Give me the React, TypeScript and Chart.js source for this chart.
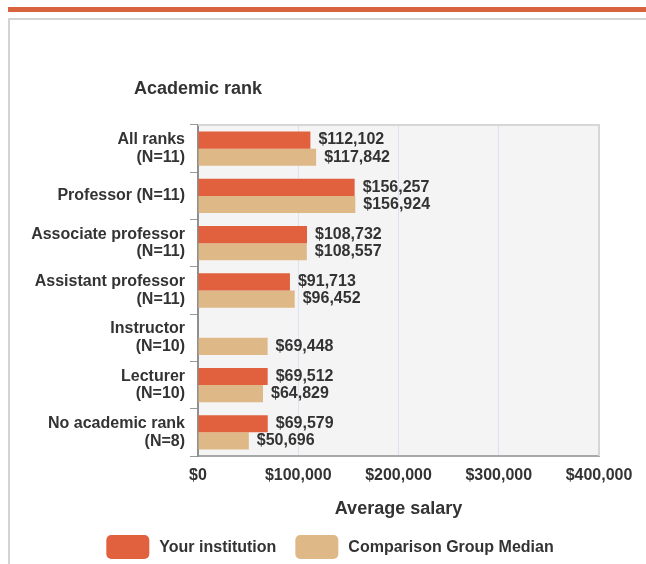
import React, { useEffect, useRef } from 'react';
import { Chart, registerables } from 'chart.js';

Chart.register(...registerables);

const categories: (string | string[])[] = [
  ['All ranks', '(N=11)'],
  'Professor (N=11)',
  ['Associate professor', '(N=11)'],
  ['Assistant professor', '(N=11)'],
  ['Instructor', '(N=10)'],
  ['Lecturer', '(N=10)'],
  ['No academic rank', '(N=8)'],
];
const yourInstitution: (number | null)[] = [112102, 156257, 108732, 91713, null, 69512, 69579];
const comparisonMedian: number[] = [117842, 156924, 108557, 96452, 69448, 64829, 50696];
const seriesNames = ['Your institution', 'Comparison Group Median'];
const seriesColors = ['#e1603d', '#deb887'];
const xMin = 0;
const xMax = 400000;
const xStep = 100000;
const yAxisTitle = 'Academic rank';
const xAxisTitle = 'Average salary';

const FONT = '"Liberation Sans", Arial, sans-serif';
const TEXT = '#333333';

const money = (v: number) => '$' + Math.round(v).toLocaleString('en-US');

const decorPlugin = {
  id: 'decor',
  beforeDraw(chart: any) {
    const { ctx, chartArea, width, height } = chart;
    ctx.save();
    // top orange rule
    ctx.fillStyle = '#d9633f';
    ctx.fillRect(8, 7, width - 8, 5);
    // frame
    ctx.fillStyle = '#d3d3d3';
    ctx.fillRect(8, 18, width - 8, 2);
    ctx.fillRect(8, 18, 2, height - 18);
    // plot background
    ctx.fillStyle = '#f4f4f4';
    ctx.fillRect(chartArea.left, chartArea.top, chartArea.right - chartArea.left, chartArea.bottom - chartArea.top);
    ctx.restore();
  },
  afterDraw(chart: any) {
    const { ctx, chartArea } = chart;
    ctx.save();
    // plot top/right border
    ctx.strokeStyle = '#d6d6d6';
    ctx.lineWidth = 2;
    ctx.beginPath();
    ctx.moveTo(chartArea.left, chartArea.top);
    ctx.lineTo(chartArea.right, chartArea.top);
    ctx.lineTo(chartArea.right, chartArea.bottom);
    ctx.stroke();
    // y title (horizontal, above labels)
    ctx.fillStyle = TEXT;
    ctx.font = `bold 18px ${FONT}`;
    ctx.textAlign = 'center';
    ctx.textBaseline = 'middle';
    ctx.fillText(yAxisTitle, chartArea.left, 89);
    // value labels
    ctx.font = `bold 16px ${FONT}`;
    ctx.textAlign = 'left';
    chart.data.datasets.forEach((ds: any, di: number) => {
      const meta = chart.getDatasetMeta(di);
      meta.data.forEach((el: any, i: number) => {
        const v = ds.data[i];
        if (v === null || v === undefined) return;
        ctx.fillText(money(v), el.x + 8, el.y);
      });
    });
    // legend
    ctx.font = `bold 16px ${FONT}`;
    const boxW = 43;
    const boxH = 24;
    const gapText = 10;
    const gapItem = 19;
    const widths = chart.data.datasets.map((ds: any) => boxW + gapText + ctx.measureText(ds.label).width);
    const total = widths.reduce((a: number, b: number) => a + b, 0) + gapItem * (widths.length - 1);
    let x = (chart.width - total) / 2 + 7;
    const cy = 547;
    chart.data.datasets.forEach((ds: any, di: number) => {
      ctx.fillStyle = ds.backgroundColor;
      ctx.beginPath();
      (ctx as any).roundRect(x, cy - boxH / 2, boxW, boxH, 5);
      ctx.fill();
      ctx.fillStyle = TEXT;
      ctx.textBaseline = 'middle';
      ctx.fillText(ds.label, x + boxW + gapText, cy + 1);
      x += widths[di] + gapItem;
    });
    ctx.restore();
  },
};

export default function App() {
  const ref = useRef<HTMLCanvasElement | null>(null);
  useEffect(() => {
    if (!ref.current) return;
    const chart = new Chart(ref.current, {
      type: 'bar',
      data: {
        labels: categories as any,
        datasets: [
          { label: seriesNames[0], data: yourInstitution as any, backgroundColor: seriesColors[0], categoryPercentage: 0.725, barPercentage: 1 },
          { label: seriesNames[1], data: comparisonMedian, backgroundColor: seriesColors[1], categoryPercentage: 0.725, barPercentage: 1 },
        ],
      },
      options: {
        indexAxis: 'y',
        responsive: false,
        animation: false,
        layout: { padding: { top: 125, right: 47, left: 0, bottom: 0 } },
        plugins: {
          legend: { display: false },
          tooltip: { enabled: false },
          title: { display: false },
        },
        scales: {
          x: {
            type: 'linear',
            min: xMin,
            max: xMax,
            afterFit(scale: any) { scale.height = 108; },
            ticks: {
              stepSize: xStep,
              padding: 10,
              color: TEXT,
              font: { family: FONT, size: 16, weight: 'bold' },
              callback: (v: any) => money(Number(v)),
            },
            grid: { color: '#dde3ee', lineWidth: 1, drawTicks: false },
            border: { color: '#a8a8a8', width: 2 },
            title: {
              display: true,
              text: xAxisTitle,
              color: TEXT,
              font: { family: FONT, size: 18, weight: 'bold' },
              padding: { top: 0, bottom: 44 },
            },
          },
          y: {
            afterFit(scale: any) { scale.width = 198; },
            ticks: {
              color: TEXT,
              padding: 5,
              font: { family: FONT, size: 16, weight: 'bold', lineHeight: 1.1 },
            },
            grid: { drawOnChartArea: false, drawTicks: true, tickLength: 8, color: '#999999', offset: true },
            border: { color: '#8f8f8f', width: 2 },
          },
        },
      },
      plugins: [decorPlugin],
    });
    return () => chart.destroy();
  }, []);
  return (
    <div style={{ position: 'absolute', left: 0, top: 0, width: 646, height: 564, background: '#fff' }}>
      <canvas ref={ref} width={646} height={564} style={{ display: 'block' }} />
    </div>
  );
}
